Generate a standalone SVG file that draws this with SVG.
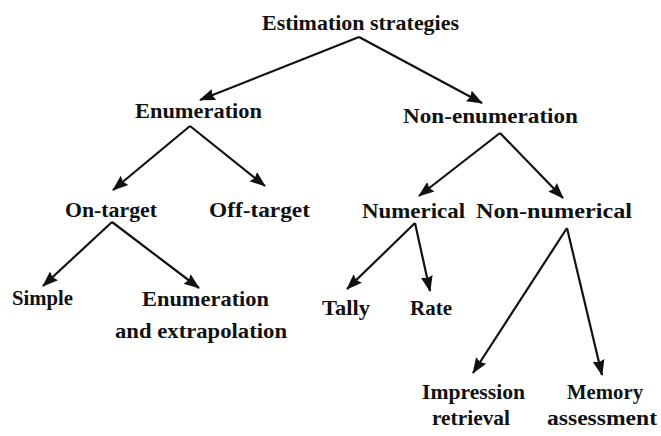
<svg xmlns="http://www.w3.org/2000/svg" width="661" height="436" viewBox="0 0 661 436">
<style>
  text { font-family: "Liberation Serif", "DejaVu Serif", serif; font-size: 22px; font-weight: bold; fill: #111; text-anchor: middle; }
  .edge { stroke: #111; stroke-width: 2.2; fill: none; marker-end: url(#arrow); }
</style>
<defs>
  <marker id="arrow" markerUnits="userSpaceOnUse" markerWidth="16" markerHeight="14" viewBox="0 0 16 14" refX="15" refY="7" orient="auto">
    <path d="M0,1 L16,7 L0,13 L2,7 Z" fill="#111"/>
  </marker>
</defs>
<rect width="661" height="436" fill="#ffffff"/>
<g id="connectors">
  <line class="edge" x1="359" y1="37" x2="200" y2="100"/>
  <line class="edge" x1="359" y1="37" x2="482" y2="103"/>
  <line class="edge" x1="190" y1="126" x2="113" y2="190"/>
  <line class="edge" x1="190" y1="126" x2="265" y2="186"/>
  <line class="edge" x1="500" y1="133" x2="419" y2="196"/>
  <line class="edge" x1="500" y1="133" x2="563" y2="198"/>
  <line class="edge" x1="112" y1="222" x2="43" y2="286"/>
  <line class="edge" x1="112" y1="222" x2="199" y2="288"/>
  <line class="edge" x1="415" y1="223" x2="347" y2="289"/>
  <line class="edge" x1="415" y1="223" x2="430" y2="291"/>
  <line class="edge" x1="567" y1="228" x2="473" y2="373"/>
  <line class="edge" x1="567" y1="228" x2="602" y2="375"/>
</g>
<g id="n-root"><text x="360.5" y="30" textLength="197" lengthAdjust="spacingAndGlyphs">Estimation strategies</text></g>
<g id="n-enumeration"><text x="198.5" y="118" textLength="127" lengthAdjust="spacingAndGlyphs">Enumeration</text></g>
<g id="n-nonenumeration"><text x="490.5" y="123" textLength="175" lengthAdjust="spacingAndGlyphs">Non-enumeration</text></g>
<g id="n-ontarget"><text x="111" y="217" textLength="92" lengthAdjust="spacingAndGlyphs">On-target</text></g>
<g id="n-offtarget"><text x="259.5" y="217" textLength="101" lengthAdjust="spacingAndGlyphs">Off-target</text></g>
<g id="n-numerical"><text x="413.5" y="218" textLength="103" lengthAdjust="spacingAndGlyphs">Numerical</text></g>
<g id="n-nonnumerical"><text x="554" y="218" textLength="156" lengthAdjust="spacingAndGlyphs">Non-numerical</text></g>
<g id="n-simple"><text x="42.5" y="305" textLength="61" lengthAdjust="spacingAndGlyphs">Simple</text></g>
<g id="n-enumextrap">
  <text x="205.5" y="306" textLength="127" lengthAdjust="spacingAndGlyphs">Enumeration</text>
  <text x="201" y="338" textLength="172" lengthAdjust="spacingAndGlyphs">and extrapolation</text>
</g>
<g id="n-tally"><text x="346" y="315" textLength="48" lengthAdjust="spacingAndGlyphs">Tally</text></g>
<g id="n-rate"><text x="431" y="315" textLength="42" lengthAdjust="spacingAndGlyphs">Rate</text></g>
<g id="n-impression">
  <text x="473.5" y="399" textLength="103" lengthAdjust="spacingAndGlyphs">Impression</text>
  <text x="471" y="425" textLength="78" lengthAdjust="spacingAndGlyphs">retrieval</text>
</g>
<g id="n-memory">
  <text x="605" y="399" textLength="76" lengthAdjust="spacingAndGlyphs">Memory</text>
  <text x="602" y="425" textLength="110" lengthAdjust="spacingAndGlyphs">assessment</text>
</g>
</svg>
